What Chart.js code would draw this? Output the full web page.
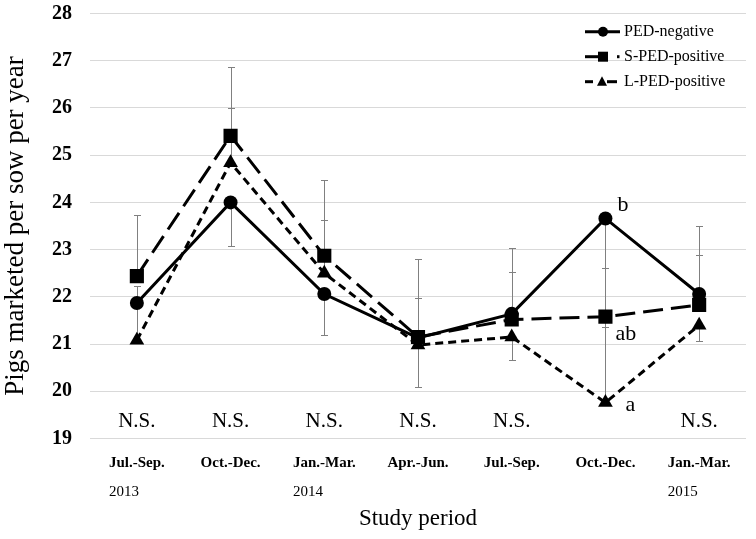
<!DOCTYPE html>
<html>
<head>
<meta charset="utf-8">
<script src="https://cdn.jsdelivr.net/npm/chart.js@4/dist/chart.umd.min.js"></script>
<style>
  html, body { margin: 0; padding: 0; background: #ffffff; }
  #wrap { width: 756px; height: 539px; }
</style>
</head>
<body>
<div id="wrap"><canvas id="c" width="756" height="539"></canvas></div>
<script>
// ---- data ----
const categories = ["Jul.-Sep.", "Oct.-Dec.", "Jan.-Mar.", "Apr.-Jun.", "Jul.-Sep.", "Oct.-Dec.", "Jan.-Mar."];
const years = ["2013", "", "2014", "", "", "", "2015"];
const seriesNames = ["PED-negative", "S-PED-positive", "L-PED-positive"];

const pedNegative  = [21.87, 24.00, 22.06, 21.13, 21.64, 23.66, 22.06];
const sPedPositive = [22.44, 25.41, 22.87, 21.15, 21.52, 21.58, 21.83];
const lPedPositive = [21.08, 24.84, 22.50, 20.98, 21.15, 19.76, 21.40];

const pedNegErrPlus   = [0.36, 0, 0, 0.85, 0.89, 0, 1.43];
const pedNegErrMinus  = [0.79, 0.92, 0.86, 1.03, 0, 3.9, 0];
const sPedErrPlus     = [1.29, 1.45, 1.60, 1.65, 1.51, 0, 1.05];
const sPedErrMinus    = [0, 0, 0, 0, 0, 0.21, 0];
const lPedErrPlus     = [0, 1.16, 1.13, 0, 0, 2.86, 0];
const lPedErrMinus    = [0, 0, 0, 0, 0.49, 0, 0.33];

const groupTest = ["N.S.", "N.S.", "N.S.", "N.S.", "N.S.", "", "N.S."];
const letterPed  = ["", "", "", "", "", "b", ""];
const letterSPed = ["", "", "", "", "", "ab", ""];
const letterLPed = ["", "", "", "", "", "a", ""];

const yMin = 19, yMax = 28, yStep = 1;
const xTitle = "Study period";
const yTitle = "Pigs marketed per sow per year";

// ---- drawing ----
const SERIF = "'Liberation Serif', 'Times New Roman', serif";

function drawMarker(ctx, style, cx, cy, s) {
  ctx.beginPath();
  if (style === 'circle') {
    ctx.arc(cx, cy, s / 2, 0, Math.PI * 2);
  } else if (style === 'rect') {
    ctx.rect(cx - s / 2, cy - s / 2, s, s);
  } else {
    ctx.moveTo(cx, cy - s * 0.55);
    ctx.lineTo(cx + s / 2, cy + s * 0.4);
    ctx.lineTo(cx - s / 2, cy + s * 0.4);
    ctx.closePath();
  }
  ctx.fill();
}

const extras = {
  id: 'extras',
  beforeDatasetsDraw(chart) {
    const { ctx, scales: { x, y } } = chart;
    const sets = [
      [pedNegative, pedNegErrPlus, pedNegErrMinus],
      [sPedPositive, sPedErrPlus, sPedErrMinus],
      [lPedPositive, lPedErrPlus, lPedErrMinus]
    ];
    ctx.save();
    ctx.strokeStyle = '#808080';
    ctx.lineWidth = 1;
    sets.forEach(([vals, plus, minus]) => {
      vals.forEach((v, i) => {
        const px = Math.round(x.getPixelForValue(i)) + 0.5;
        const py = y.getPixelForValue(v);
        const seg = (val) => {
          const ey = Math.round(y.getPixelForValue(val)) + 0.5;
          ctx.beginPath();
          ctx.moveTo(px, py); ctx.lineTo(px, ey);
          ctx.moveTo(px - 3.5, ey); ctx.lineTo(px + 3.5, ey);
          ctx.stroke();
        };
        if (plus[i] > 0) seg(v + plus[i]);
        if (minus[i] > 0) seg(v - minus[i]);
      });
    });
    ctx.restore();
  },
  afterDraw(chart) {
    const { ctx, scales: { x, y } } = chart;
    ctx.save();
    ctx.fillStyle = '#000';
    // years under tick labels, left aligned to label start
    ctx.font = "bold 15px " + SERIF;
    const yearLefts = categories.map((c, i) => x.getPixelForValue(i) - ctx.measureText(c).width / 2);
    ctx.font = "15px " + SERIF;
    ctx.textBaseline = 'middle';
    ctx.textAlign = 'left';
    years.forEach((yr, i) => { if (yr) ctx.fillText(yr, yearLefts[i], 492); });

    // N.S. labels
    ctx.font = "21px " + SERIF;
    ctx.textAlign = 'center';
    groupTest.forEach((t, i) => { if (t) ctx.fillText(t, x.getPixelForValue(i), 421); });

    // letters
    ctx.font = "22px " + SERIF;
    ctx.textAlign = 'left';
    letterPed.forEach((t, i) => { if (t) ctx.fillText(t, x.getPixelForValue(i) + 12, y.getPixelForValue(pedNegative[i]) - 13); });
    letterSPed.forEach((t, i) => { if (t) ctx.fillText(t, x.getPixelForValue(i) + 10, y.getPixelForValue(sPedPositive[i]) + 18); });
    letterLPed.forEach((t, i) => { if (t) ctx.fillText(t, x.getPixelForValue(i) + 20, y.getPixelForValue(lPedPositive[i]) + 3); });

    // legend
    const rows = [31.7, 56.7, 81.7];
    ctx.strokeStyle = '#000';
    ctx.lineWidth = 3;
    ctx.lineCap = 'butt';
    const seg = (a, b, yy) => { ctx.beginPath(); ctx.moveTo(a, yy); ctx.lineTo(b, yy); ctx.stroke(); };
    seg(585, 620, rows[0]);
    drawMarker(ctx, 'circle', 603, rows[0], 10);
    seg(585, 598, rows[1]);
    drawMarker(ctx, 'rect', 603, rows[1], 10);
    seg(617, 619.5, rows[1]);
    seg(585, 593, rows[2]);
    drawMarker(ctx, 'triangle', 602, rows[2], 10);
    seg(607, 617, rows[2]);
    ctx.font = "16px " + SERIF;
    ctx.textAlign = 'left';
    ctx.textBaseline = 'middle';
    chart.data.datasets.forEach((ds, i) => ctx.fillText(ds.label, 624, rows[i]));
    ctx.restore();
  }
};

new Chart(document.getElementById('c'), {
  type: 'line',
  data: {
    labels: categories,
    datasets: [
      { label: seriesNames[0], data: pedNegative, borderColor: '#000', backgroundColor: '#000',
        borderWidth: 3, pointStyle: 'circle', pointRadius: 7, pointBorderWidth: 0, tension: 0 },
      { label: seriesNames[1], data: sPedPositive, borderColor: '#000', backgroundColor: '#000',
        borderWidth: 3, borderDash: [20, 8], pointStyle: 'rect', pointRadius: 10, pointBorderWidth: 0, tension: 0 },
      { label: seriesNames[2], data: lPedPositive, borderColor: '#000', backgroundColor: '#000',
        borderWidth: 3, borderDash: [8, 5], pointStyle: 'triangle', pointRadius: 8.5, pointBorderWidth: 0, tension: 0 }
    ]
  },
  options: {
    responsive: false,
    animation: false,
    layout: { padding: { top: 13.5, right: 1, left: 0, bottom: 0 } },
    plugins: { legend: { display: false }, tooltip: { enabled: false } },
    scales: {
      x: {
        offset: true,
        grid: { display: false, drawTicks: false },
        border: { display: false },
        ticks: { color: '#000', font: { family: SERIF, size: 15, weight: 'bold' }, padding: 16, maxRotation: 0, autoSkip: false },
        title: { display: true, text: xTitle, color: '#000', font: { family: SERIF, size: 23 }, padding: { top: 0, bottom: 6 } },
        afterFit(s) { s.height = 100.5; s.paddingLeft = 0; s.paddingRight = 0; }
      },
      y: {
        min: yMin, max: yMax,
        ticks: { stepSize: yStep, color: '#000', font: { family: SERIF, size: 20, weight: 'bold' }, padding: 18 },
        grid: { color: '#d9d9d9', lineWidth: 1, drawTicks: false },
        border: { display: false },
        title: { display: true, text: yTitle, color: '#000', font: { family: SERIF, size: 27 }, padding: { top: 0, bottom: 0 } },
        afterFit(s) { s.width = 90; s.paddingTop = 0; s.paddingBottom = 0; }
      }
    }
  },
  plugins: [extras]
});
</script>
</body>
</html>
